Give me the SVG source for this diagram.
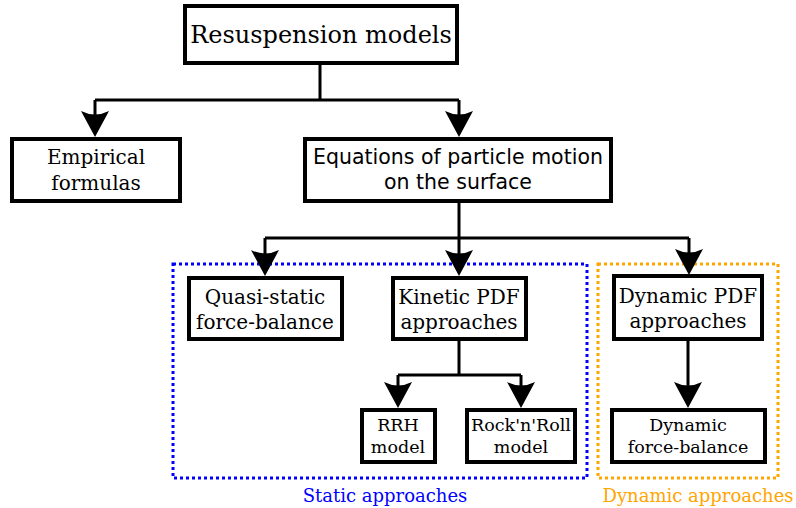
<svg xmlns="http://www.w3.org/2000/svg" width="796" height="508" viewBox="0 0 796 508">
  <style>
    .box { fill: #ffffff; stroke: #000000; stroke-width: 4; }
    .serif { font-family: "DejaVu Serif", "Liberation Serif", serif; fill: #000000; text-anchor: middle; }
    .sans { font-family: "DejaVu Sans", "Liberation Sans", sans-serif; fill: #000000; text-anchor: middle; }
    .conn { fill: none; stroke: #000000; stroke-width: 3; marker-end: url(#arrow); }
    .line { fill: none; stroke: #000000; stroke-width: 3; }
    .group-static { fill: none; stroke: #0000ff; stroke-width: 3; stroke-dasharray: 3 3; }
    .group-dynamic { fill: none; stroke: #ffa500; stroke-width: 3; stroke-dasharray: 3 3; }
    .f24 { font-size: 24px; }
    .f20 { font-size: 20px; }
    .f21 { font-size: 20.5px; }
    .f17 { font-size: 17.5px; }
    .f18 { font-size: 18px; }
  </style>
  <defs>
    <marker id="arrow" viewBox="0 0 28 28" refX="16" refY="14" markerWidth="28" markerHeight="28" markerUnits="userSpaceOnUse" orient="auto">
      <path d="M0,0 L26,14 L0,28 Q7,14 0,0 Z" fill="#000000"/>
    </marker>
  </defs>

  <g id="groups">
    <rect class="group-static" x="173" y="264" width="414" height="214"/>
    <rect class="group-dynamic" x="598" y="264" width="180" height="214"/>
    <text class="serif f18" x="385" y="502" style="fill:#0000ff">Static approaches</text>
    <text class="serif f18" x="698" y="502" style="fill:#ffa500">Dynamic approaches</text>
  </g>

  <g id="connectors">
    <path class="line" d="M320,63 V100 M95,100 H459"/>
    <path class="conn" d="M95,100 V127"/>
    <path class="conn" d="M459,100 V127"/>
    <path class="line" d="M459,201 V238 M265,238 H689"/>
    <path class="conn" d="M265,238 V266"/>
    <path class="conn" d="M459,238 V266"/>
    <path class="conn" d="M689,238 V265"/>
    <path class="line" d="M459,340 V375 M398,375 H521"/>
    <path class="conn" d="M398,375 V398"/>
    <path class="conn" d="M521,375 V398"/>
    <path class="conn" d="M688,339 V398"/>
  </g>

  <g id="resuspension-models">
    <rect class="box" x="185" y="6" width="272" height="57"/>
    <text class="serif f24" x="321" y="43">Resuspension models</text>
  </g>
  <g id="empirical-formulas">
    <rect class="box" x="12" y="139" width="168" height="62"/>
    <text class="serif f20" x="96" y="164">Empirical</text>
    <text class="serif f20" x="96" y="190">formulas</text>
  </g>
  <g id="equations-of-motion">
    <rect class="box" x="305" y="139" width="306" height="62"/>
    <text class="sans f21" x="458" y="164">Equations of particle motion</text>
    <text class="sans f21" x="458" y="189">on the surface</text>
  </g>
  <g id="quasi-static">
    <rect class="box" x="189" y="278" width="153" height="61"/>
    <text class="serif f20" x="265" y="304">Quasi-static</text>
    <text class="serif f20" x="265" y="329">force-balance</text>
  </g>
  <g id="kinetic-pdf">
    <rect class="box" x="393" y="278" width="133" height="61"/>
    <text class="serif f20" x="459" y="304">Kinetic PDF</text>
    <text class="serif f20" x="459" y="329">approaches</text>
  </g>
  <g id="dynamic-pdf">
    <rect class="box" x="614" y="276" width="148" height="63"/>
    <text class="serif f20" x="688" y="303">Dynamic PDF</text>
    <text class="serif f20" x="688" y="328">approaches</text>
  </g>
  <g id="rrh-model">
    <rect class="box" x="362" y="410" width="73" height="52"/>
    <text class="serif f17" x="398" y="431">RRH</text>
    <text class="serif f17" x="398" y="453">model</text>
  </g>
  <g id="rock-n-roll-model">
    <rect class="box" x="467" y="410" width="108" height="52"/>
    <text class="serif f17" x="521" y="431">Rock'n'Roll</text>
    <text class="serif f17" x="521" y="453">model</text>
  </g>
  <g id="dynamic-force-balance">
    <rect class="box" x="612" y="410" width="153" height="52"/>
    <text class="serif f17" x="688" y="431">Dynamic</text>
    <text class="serif f17" x="688" y="453">force-balance</text>
  </g>
</svg>
